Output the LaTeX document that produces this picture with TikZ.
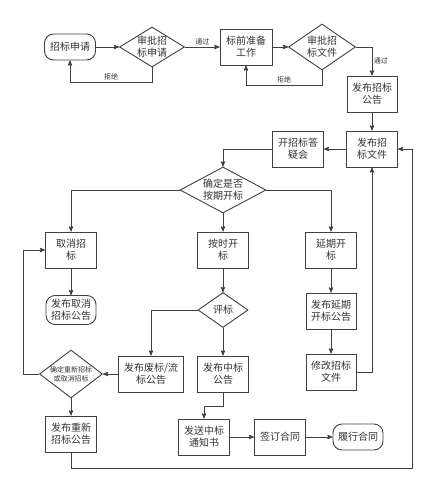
\documentclass[tikz,border=0pt]{standalone}
\usepackage{fontspec}
\setmainfont{Noto Sans CJK SC}
\usepackage{xcolor}
\usepackage{tikz}
\usetikzlibrary{arrows,shapes.geometric}
\definecolor{linegray}{HTML}{404040}
\definecolor{textgray}{HTML}{333333}

\begin{document}
\begin{tikzpicture}[node distance=60pt, >=stealth',
    block/.style={rectangle, draw=linegray, line width=0.9pt, minimum height=36pt,
                  minimum width=51pt, align=center, inner sep=1pt, text=textgray,
                  font=\fontsize{10}{12}\selectfont},
    term/.style={block, rounded corners=9pt, minimum height=26pt},
    choice/.style={diamond, draw=linegray, line width=0.9pt, inner sep=-4pt,
                   align=center, text=textgray, font=\fontsize{10}{12}\selectfont},
    arrow/.style={->, draw=linegray, line width=0.9pt},
    tag/.style={font=\fontsize{7}{8}\selectfont, text=textgray, inner sep=1.5pt}]
    \useasboundingbox (0,0) rectangle (443pt,-500pt);
    % top row
    \node[term] (apply) at (70pt,-47pt) {招标申请};
    \node[choice, minimum width=65pt, minimum height=40pt, right of=apply, node distance=82pt] (chk1) {审批招\\标申请};
    \node[block, minimum width=52pt, right of=chk1, node distance=94pt] (prep) {标前准备\\工作};
    \node[choice, minimum width=67pt, minimum height=46pt, right of=prep, node distance=76pt] (chk2) {审批招\\标文件};
    \node[block, minimum width=50pt, below of=chk2, xshift=50pt, node distance=47pt] (notice) {发布招标\\公告};
    \node[block, below of=notice, node distance=55pt] (docs) {发布招\\标文件};
    \node[block, left of=docs, node distance=74pt] (qa) {开招标答\\疑会};
    % opening decision
    \node[choice, minimum width=86pt, minimum height=46pt] (decide) at (223pt,-190pt) {确定是否\\按期开标};
    \node[block, below of=decide] (ontime) {按时开\\标};
    \node[block, left of=ontime, node distance=152pt] (cancel) {取消招\\标};
    \node[block, right of=ontime, node distance=108pt] (delay) {延期开\\标};
    \node[term, minimum height=29pt, minimum width=50pt, below of=cancel] (cancelnote) {发布取消\\招标公告};
    \node[choice, minimum width=50pt, minimum height=35pt, below of=ontime] (review) {评标};
    \node[block, minimum width=50pt, below of=delay, node distance=61pt] (delaynote) {发布延期\\开标公告};
    \node[block, minimum width=50pt, below of=delaynote, node distance=61pt] (moddoc) {修改招标\\文件};
    \node[block, below of=review, node distance=64pt] (win) {发布中标\\公告};
    \node[block, minimum width=65pt, left of=win, node distance=72pt] (fail) {发布废标/流\\标公告};
    \node[choice, minimum width=63pt, minimum height=48pt, font=\fontsize{7}{9}\selectfont,
          left of=fail, node distance=80pt] (redo) {确定重新招标\\或取消招标};
    \node[block, below of=redo] (rebid) {发布重新\\招标公告};
    % contract row
    \node[block, below of=win, xshift=-19pt, node distance=63pt] (letter) {发送中标\\通知书};
    \node[block, right of=letter, node distance=76pt] (sign) {签订合同};
    \node[term, minimum width=50pt, right of=sign, node distance=78pt] (perform) {履行合同};
    \coordinate (back) at (412pt,-468pt);

    \draw[arrow] (apply) -- (chk1);
    \draw[arrow] (chk1) -- node[tag, above] {通过} (prep);
    \draw[arrow] (chk1.south) -- ++(0,-15pt) -| node[tag, above, pos=0.25] {拒绝} (apply.south);
    \draw[arrow] (prep) -- (chk2);
    \draw[arrow] (chk2.south) -- ++(0,-15pt) -| node[tag, above, pos=0.25] {拒绝} (prep.south);
    \draw[arrow] (chk2.east) -| node[tag, right, pos=0.75] {通过} (notice.north);
    \draw[arrow] (notice) -- (docs);
    \draw[arrow] (docs) -- (qa);
    \draw[arrow] (qa.west) -| (decide.north);
    \draw[arrow] (decide.west) -| (cancel.north);
    \draw[arrow] (decide) -- (ontime);
    \draw[arrow] (decide.east) -| (delay.north);
    \draw[arrow] (cancel) -- (cancelnote);
    \draw[arrow] (ontime) -- (review);
    \draw[arrow] (delay) -- (delaynote);
    \draw[arrow] (delaynote) -- (moddoc);
    \draw[arrow] (moddoc.east) -| (docs.south);
    \draw[arrow] (review.west) -| (fail.north);
    \draw[arrow] (review) -- (win);
    \draw[arrow] (fail) -- (redo);
    \draw[arrow] (redo) -- (rebid);
    \draw[arrow] (redo.west) -- ++(-16pt,0) |- (cancel.west);
    \draw[arrow] (win.south) -- ++(0,-14pt) -| (letter.north);
    \draw[arrow] (letter) -- (sign);
    \draw[arrow] (sign) -- (perform);
    \draw[arrow] (rebid.south) |- (back) |- (docs.east);
\end{tikzpicture}
\end{document}
